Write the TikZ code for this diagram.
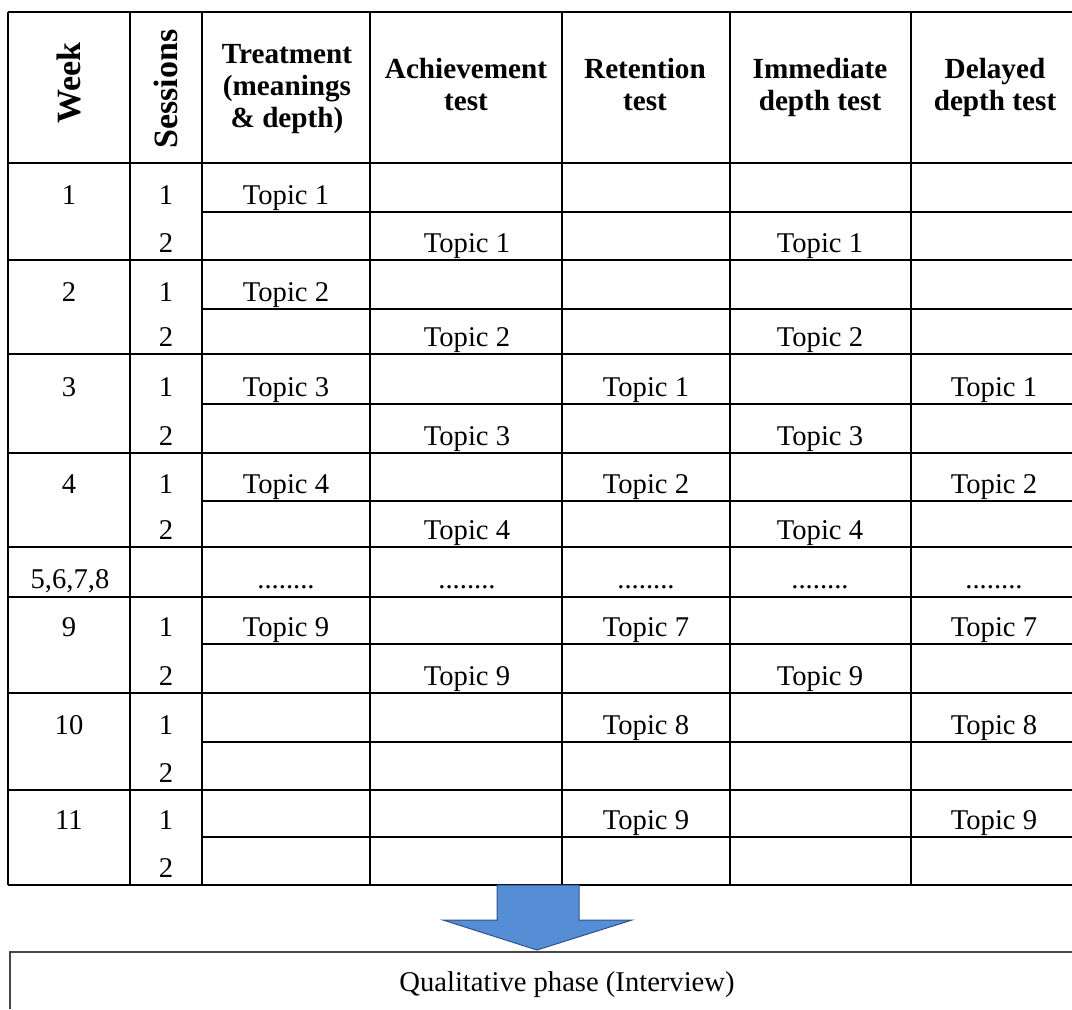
\documentclass[tikz,border=0pt]{standalone}
\usepackage{fontspec}
\setmainfont{Liberation Serif}
\usetikzlibrary{positioning}
\definecolor{arrowfill}{RGB}{85,142,213}
\definecolor{arrowline}{RGB}{47,82,143}
\definecolor{boxline}{RGB}{70,70,70}

\begin{document}
\begin{tikzpicture}[x=0.5pt, y=-0.5pt,
	gridline/.style={line width=1pt, black},
	cell/.style={anchor=base, inner sep=0pt, font=\fontsize{14.3}{16}\selectfont},
	head/.style={anchor=center, align=center, inner sep=0pt, font=\fontsize{14.6}{16}\selectfont\bfseries},
	sidehead/.style={head, rotate=90, font=\fontsize{17}{18}\selectfont\bfseries}]
	\useasboundingbox (0, 0) rectangle (1072, 1009);
	% Table rules:
	\foreach \y in {12, 163, 260, 354, 453, 547, 597, 693, 790, 885}
		\draw[gridline] (8, \y) -- (1072, \y);
	\foreach \y in {212, 309, 404, 501, 644, 742, 837}
		\draw[gridline] (202, \y) -- (1072, \y);
	\foreach \x in {8, 130, 202, 370, 562, 730, 911}
		\draw[gridline] (\x, 12) -- (\x, 885);
	% Header:
	\node[sidehead] (hweek) at (69, 83) {Week};
	\node[sidehead] (hsess) at (166, 89) {Sessions};
	\node[head] (htreat) at (287, 89) {Treatment\\(meanings\\\& depth)};
	\node[head] (hach) at (466, 85) {Achievement\\test};
	\node[head] (hret) at (645, 85) {Retention\\test};
	\node[head] (himm) at (820, 87) {Immediate\\depth test};
	\node[head] (hdel) at (995, 87) {Delayed\\depth test};
	% Weeks and sessions:
	\foreach \w/\ya/\yb in {1/204/252, 2/301/346, 3/396/445, 4/493/539, 9/636/685, 10/734/782, 11/829/877} {
		\node[cell] (w\w) at (69, \ya) {\w};
		\node[cell] (s\w a) at (166, \ya) {1};
		\node[cell] (s\w b) at (166, \yb) {2};
	}
	\node[cell] (w5) at (70, 588) {5,6,7,8};
	% Topics, session 1:
	\node[cell] (t1) at (286, 204) {Topic 1};
	\node[cell] (t2) at (286, 301) {Topic 2};
	\node[cell] (t3) at (286, 396) {Topic 3};
	\node[cell] (t4) at (286, 493) {Topic 4};
	\node[cell] (t9) at (286, 636) {Topic 9};
	\node[cell] (r3) at (646, 396) {Topic 1};
	\node[cell] (r4) at (646, 493) {Topic 2};
	\node[cell] (r9) at (646, 636) {Topic 7};
	\node[cell] (r10) at (646, 734) {Topic 8};
	\node[cell] (r11) at (646, 829) {Topic 9};
	\node[cell] (d3) at (994, 396) {Topic 1};
	\node[cell] (d4) at (994, 493) {Topic 2};
	\node[cell] (d9) at (994, 636) {Topic 7};
	\node[cell] (d10) at (994, 734) {Topic 8};
	\node[cell] (d11) at (994, 829) {Topic 9};
	% Topics, session 2:
	\foreach \w/\y/\k in {1/252/1, 2/346/2, 3/445/3, 4/539/4, 9/685/9} {
		\node[cell] (a\w) at (467, \y) {Topic \k};
		\node[cell] (i\w) at (820, \y) {Topic \k};
	}
	% Weeks 5 to 8:
	\foreach \x/\n in {286/t, 467/a, 646/r, 820/i, 994/d}
		\node[cell] (\n5) at (\x, 588) {........};
	% Arrow and interview box:
	\draw[arrowline, fill=arrowfill, line width=0.5pt] (497, 885) -- (579, 885) -- (579, 920) -- (632, 920)
		-- (537, 950) -- (443, 920) -- (497, 920) -- cycle;
	\draw[boxline, line width=0.8pt] (10, 1009) -- (10, 952) -- (1072, 952);
	\node[cell] (qual) at (567, 991) {Qualitative phase (Interview)};
\end{tikzpicture}
\end{document}
